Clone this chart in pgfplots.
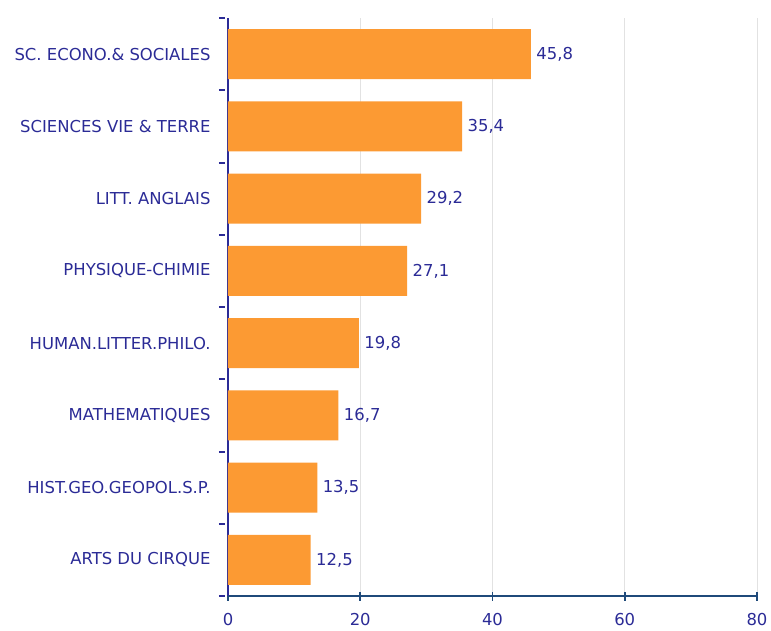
\documentclass[border=0pt]{standalone}
\usepackage{pgfplots}
\pgfplotsset{compat=1.18}
\usepackage{fontspec}
\setmainfont{DejaVu Sans}
\definecolor{barorange}{HTML}{FC9A33}
\definecolor{txtblue}{HTML}{2B2B96}
\definecolor{axblue}{HTML}{1F4A7A}
\definecolor{gridgray}{HTML}{E2E2E2}
\begin{document}
\begin{tikzpicture}
\begin{axis}[
  scale only axis,
  width=529bp, height=578bp,
  xmin=0, xmax=80,
  ymin=-0.5, ymax=7.5,
  y dir=reverse,
  axis x line*=bottom,
  axis y line*=left,
  xtick={0,20,40,60,80},
  ytick={0,1,2,3,4,5,6,7},
  yticklabels={SC. ECONO.\& SOCIALES, SCIENCES VIE \& TERRE, LITT. ANGLAIS, PHYSIQUE-CHIMIE, HUMAN.LITTER.PHILO., MATHEMATIQUES, HIST.GEO.GEOPOL.S.P., ARTS DU CIRQUE},
  major y tick style={draw=none},
  extra y ticks={-0.5,0.5,1.5,2.5,3.5,4.5,5.5,6.5,7.5},
  extra y tick labels={},
  extra y tick style={major tick length=6bp, major y tick style={draw=txtblue, line width=2bp, xshift=-3bp}},
  major tick length=9bp,
  tick align=center,
  major x tick style={draw=axblue, line width=1.5bp},
  x axis line style={draw=axblue, line width=1.8bp},
  y axis line style={draw=txtblue, line width=1.5bp},
  xmajorgrids,
  major x grid style={gridgray, line width=1bp},
  /pgf/number format/assume math mode=true,
  tick label style={font=\fontsize{16.5}{19}\selectfont, text=txtblue},
  yticklabel style={xshift=-5bp},
  xticklabel style={yshift=-9bp},
  xbar, bar width=0.69,
  bar shift=0pt,
  nodes near coords,
  nodes near coords style={font=\fontsize{16.5}{19}\selectfont, text=txtblue, anchor=west, xshift=2bp,
    /pgf/number format/.cd, fixed, fixed zerofill, precision=1, use comma},
  clip=false,
]
\addplot[fill=barorange, draw=none] coordinates {
  (45.8,0) (35.4,1) (29.2,2) (27.1,3) (19.8,4) (16.7,5) (13.5,6) (12.5,7)
};
\end{axis}
\path[use as bounding box] (-228bp,-35bp) rectangle (543bp,596bp);
\end{tikzpicture}
\end{document}
